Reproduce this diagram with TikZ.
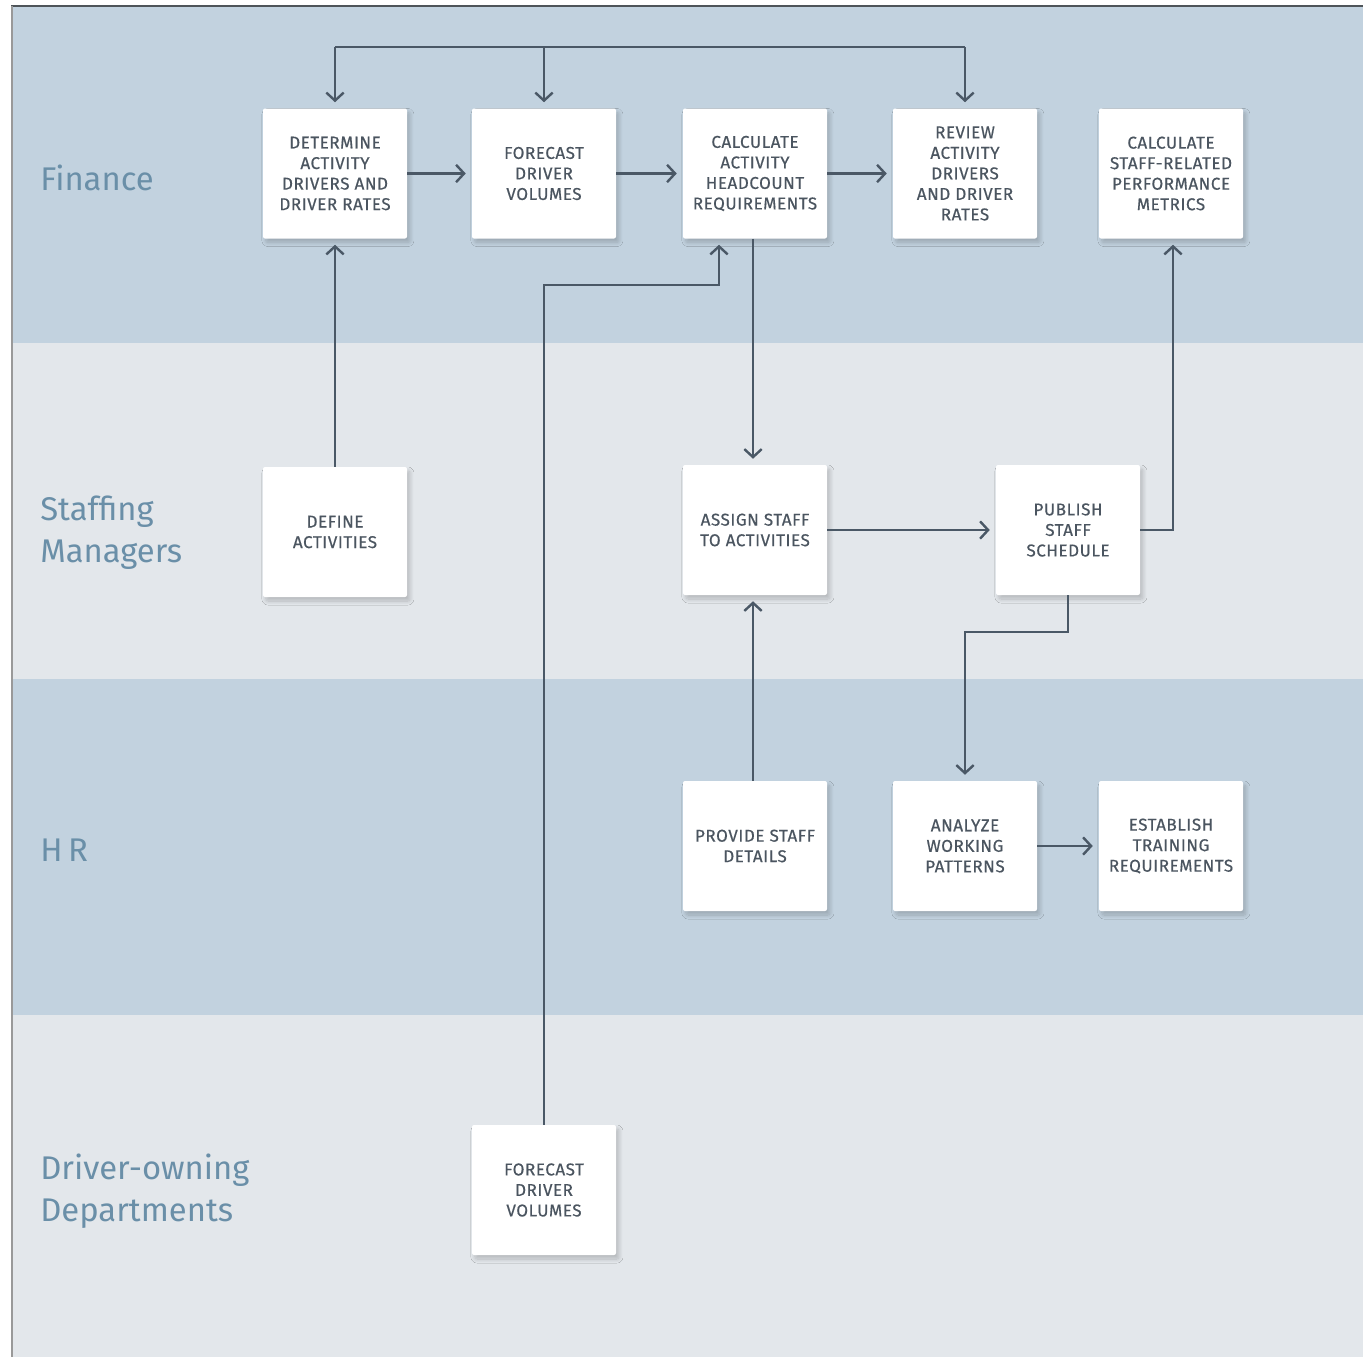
\documentclass[tikz,border=0pt]{standalone}
\usepackage{fontspec}
\setmainfont{Fira Sans}
\newfontfamily\boxfont[LetterSpace=3,FakeBold=0.5]{Fira Sans}
\newfontfamily\lanefont{Fira Sans}
\usetikzlibrary{arrows.meta,shadows.blur}
\definecolor{laneA}{HTML}{C2D2DF}
\definecolor{laneB}{HTML}{E3E7EB}
\definecolor{lanetxt}{HTML}{6A8FA8}
\definecolor{boxtxt}{HTML}{4B5560}
\definecolor{linecol}{HTML}{4A5866}
\tikzset{
  stepbox/.style={fill=white, rounded corners=1.5pt, minimum width=108pt, minimum height=97.5pt,
    inner sep=0pt, align=center, text=boxtxt, font=\boxfont\fontsize{12.8pt}{15.4pt}\selectfont,
    blur shadow={shadow xshift=2.2pt, shadow yshift=-3pt, shadow blur radius=3pt, shadow blur steps=10, shadow opacity=20}},
  lanelabel/.style={anchor=west, text=lanetxt, align=left, inner sep=0pt,
    font=\lanefont\fontsize{24.6pt}{31.5pt}\selectfont},
  conn/.style={draw=linecol, line width=2.2pt, -{Straight Barb[length=6pt,width=13pt,line width=1.8pt]}, shorten >=4.5pt},
  plain/.style={draw=linecol, line width=2.2pt}
}
\begin{document}
\begin{tikzpicture}[x=0.75pt,y=-0.75pt]
\useasboundingbox (0,0) rectangle (1363,1357);
% lanes
\fill[laneA] (13,7) rectangle (1363,343);
\fill[laneB] (13,343) rectangle (1363,679);
\fill[laneA] (13,679) rectangle (1363,1015);
\fill[laneB] (13,1015) rectangle (1363,1357);
\draw[draw=black!60!laneA, line width=1.1pt] (11,6) -- (1363,6);
\draw[draw=gray!80, line width=1.1pt] (12,6) -- (12,1357);
% lane labels
\node[lanelabel] (lf) at (40,178) {Finance};
\node[lanelabel] (ls) at (40,533) {Staffing\\Managers};
\node[lanelabel] (lh) at (40,850) {H\,R};
\node[lanelabel] (ld) at (40,1191) {Driver-owning\\Departments};
% boxes
\node[stepbox] (det) at (335,173.5) {DETERMINE\\ACTIVITY\\DRIVERS AND\\DRIVER RATES};
\node[stepbox] (fc1) at (544,173.5) {FORECAST\\DRIVER\\VOLUMES};
\node[stepbox] (calc) at (755,173.5) {CALCULATE\\ACTIVITY\\HEADCOUNT\\REQUIREMENTS};
\node[stepbox] (rev) at (965,173.5) {REVIEW\\ACTIVITY\\DRIVERS\\AND DRIVER\\RATES};
\node[stepbox] (metr) at (1171,173.5) {CALCULATE\\STAFF-RELATED\\PERFORMANCE\\METRICS};
\node[stepbox] (def) at (335,532) {DEFINE\\ACTIVITIES};
\node[stepbox] (asg) at (755,530) {ASSIGN STAFF\\TO ACTIVITIES};
\node[stepbox] (pub) at (1068,530) {PUBLISH\\STAFF\\SCHEDULE};
\node[stepbox] (prov) at (755,846) {PROVIDE STAFF\\DETAILS};
\node[stepbox] (anal) at (965,846) {ANALYZE\\WORKING\\PATTERNS};
\node[stepbox] (est) at (1171,846) {ESTABLISH\\TRAINING\\REQUIREMENTS};
\node[stepbox] (fc2) at (544,1190) {FORECAST\\DRIVER\\VOLUMES};
% coordinates
\coordinate (t1) at (335,47);
\coordinate (t2) at (544,47);
\coordinate (t3) at (965,47);
\coordinate (b1) at (544,285);
\coordinate (b2) at (719,285);
\coordinate (p1) at (1173,530);
\coordinate (q1) at (1068,632);
\coordinate (q2) at (965,632);
\coordinate (cx) at (753,0);
% connectors
\draw[plain] (t1) -- (t3);
\draw[conn] (t1) -- (det.north);
\draw[conn] (t2) -- (fc1.north);
\draw[conn] (t3) -- (rev.north);
\draw[conn] (det.east) -- (fc1.west);
\draw[conn] (fc1.east) -- (calc.west);
\draw[conn] (calc.east) -- (rev.west);
\draw[conn] (def.north) -- (det.south);
\draw[conn] (calc.south -| cx) -- (asg.north -| cx);
\draw[conn] (prov.north -| cx) -- (asg.south -| cx);
\draw[conn] (fc2.north) -- (b1) -- (b2) -- (calc.south -| b2);
\draw[conn] (asg.east) -- (pub.west);
\draw[conn] (pub.east) -- (p1) -- (metr.south -| p1);
\draw[conn] (pub.south) -- (q1) -- (q2) -- (anal.north);
\draw[conn] (anal.east) -- (est.west);
\end{tikzpicture}
\end{document}
